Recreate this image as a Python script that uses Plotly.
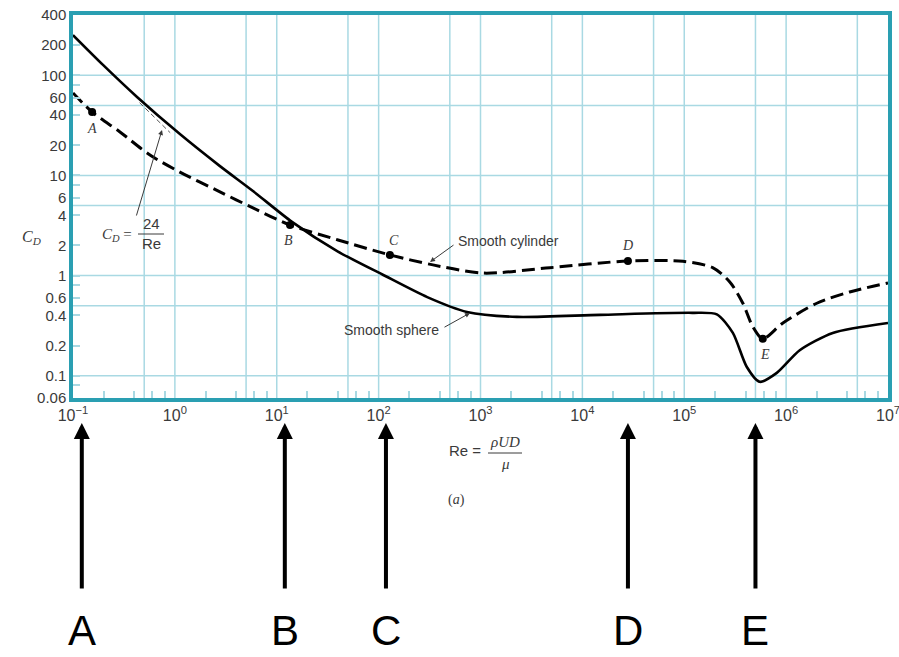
import plotly.graph_objects as go
import numpy as np

# Drag coefficient readings for a smooth sphere (solid) and smooth cylinder (dashed)
sphere_re = [0.1, 0.197, 0.425, 1.12, 2.77, 5.84, 14.1, 39.9, 110, 300, 736, 2275,
             1.49e4, 1.2e5, 2.09e5, 3.0e5, 4.1e5, 5.5e5, 8.1e5, 1.36e6, 2.87e6, 1e7]
sphere_cd = [252, 127, 60.8, 25.9, 12.4, 7.0, 3.44, 1.74, 1.02, 0.61, 0.434, 0.387,
             0.406, 0.425, 0.41, 0.268, 0.123, 0.087, 0.107, 0.18, 0.268, 0.337]

cyl_re = [0.1, 0.154, 0.289, 0.57, 1.12, 2.77, 5.84, 13.5, 40, 129, 341, 1057, 4800,
          2.8e4, 9.7e4, 1.9e5, 2.8e5, 3.76e5, 4.7e5, 5.9e5, 9.3e5, 2.0e6, 4.2e6, 1e7]
cyl_cd = [66.7, 43, 27.2, 16.0, 10.8, 6.86, 4.74, 3.2, 2.27, 1.61, 1.28, 1.06, 1.2,
          1.40, 1.39, 1.2, 0.865, 0.53, 0.31, 0.234, 0.337, 0.53, 0.687, 0.845]

# Labelled points on the cylinder curve
point_names = ["A", "B", "C", "D", "E"]
point_re = [0.154, 13.5, 129, 2.8e4, 5.9e5]
point_cd = [43, 3.2, 1.61, 1.40, 0.234]

# Positions of the large pointer arrows under the chart
pointer_re = [0.122, 12.0, 118, 2.8e4, 5.0e5]

# Stokes-law segment  C_D = 24/Re
stokes_re = [0.45, 0.9]
stokes_cd = [53.3, 26.7]

# Axis ticks and grid
x_tick_vals = [10.0 ** k for k in range(-1, 8)]
x_tick_text = ["10<sup>\u22121</sup>"] + ["10<sup>%d</sup>" % k for k in range(0, 8)]
x_minor_ticks = [m * 10.0 ** k for k in range(-1, 7) for m in (2, 4, 6, 8)]
x_grid = [10.0 ** k for k in range(0, 7)] + [5 * 10.0 ** k for k in range(-1, 7)]

y_tick_vals = [400, 200, 100, 60, 40, 20, 10, 6, 4, 2, 1, 0.6, 0.4, 0.2, 0.1, 0.06]
y_tick_text = ["400", "200", "100", "60", "40", "20", "10", "6", "4", "2", "1",
               "0.6", "0.4", "0.2", "0.1", "0.06"]
y_minor_ticks = [80, 8, 0.8, 0.08]
y_grid = [100, 50, 10, 5, 1, 0.5, 0.1]

W, H = 899, 657
ML, MR, MT, MB = 73, 11, 15, 259
PW, PH = W - ML - MR, H - MT - MB

TEAL = "#2a9fb2"
GRID = "#a9d9e3"
TEXT = "#3a3a3a"
SANS = "Liberation Sans, Arial, sans-serif"
SERIF = "Liberation Serif, Times New Roman, serif"


def px(x):
    return (x - ML) / PW


def py(y):
    return (H - MB - y) / PH


def label(x, y, text, size=15, family=SANS, color=TEXT, xanchor="center"):
    """Free text placed at page-pixel coordinates."""
    return dict(x=px(x), y=py(y), xref="paper", yref="paper", text=text, showarrow=False,
                xanchor=xanchor, yanchor="middle",
                font=dict(family=family, size=size, color=color))


def leader(tip, tail):
    """Thin arrow from a label (tail) to a point on a curve (tip), in page pixels."""
    return dict(x=px(tip[0]), y=py(tip[1]), xref="paper", yref="paper",
                ax=tail[0] - tip[0], ay=tail[1] - tip[1], axref="pixel", ayref="pixel",
                text="", showarrow=True, arrowhead=2, arrowsize=1, arrowwidth=1,
                arrowcolor=TEXT)


fig = go.Figure()

fig.add_trace(go.Scatter(x=sphere_re, y=sphere_cd, mode="lines",
                         line=dict(color="black", width=2.6, shape="spline", smoothing=0.7),
                         hoverinfo="skip", showlegend=False))
fig.add_trace(go.Scatter(x=cyl_re, y=cyl_cd, mode="lines",
                         line=dict(color="black", width=3, dash="13px,6px",
                                   shape="spline", smoothing=0.8),
                         hoverinfo="skip", showlegend=False))
fig.add_trace(go.Scatter(x=stokes_re, y=stokes_cd, mode="lines",
                         line=dict(color="#555555", width=1, dash="5px,3px"),
                         hoverinfo="skip", showlegend=False))
fig.add_trace(go.Scatter(x=point_re, y=point_cd, mode="markers",
                         marker=dict(color="black", size=8),
                         hoverinfo="skip", showlegend=False))

shapes = []
for g in x_grid:
    shapes.append(dict(type="line", xref="x", yref="paper", x0=g, x1=g, y0=0, y1=1,
                       line=dict(color=GRID, width=1.5), layer="below"))
for g in y_grid:
    shapes.append(dict(type="line", xref="paper", yref="y", x0=0, x1=1, y0=g, y1=g,
                       line=dict(color=GRID, width=1.5), layer="below"))
# fraction bars
shapes.append(dict(type="line", xref="paper", yref="paper", x0=px(138), x1=px(164),
                   y0=py(234), y1=py(234), line=dict(color=TEXT, width=1)))
shapes.append(dict(type="line", xref="paper", yref="paper", x0=px(488), x1=px(522),
                   y0=py(453), y1=py(453), line=dict(color=TEXT, width=1)))

ann = []
# point letters (italic serif)
letter_offsets = {"A": (0, 16), "B": (-2, 15), "C": (4, -14), "D": (0, -15), "E": (2, 16)}
for name, r, c in zip(point_names, point_re, point_cd):
    dx, dy = letter_offsets[name]
    ann.append(dict(x=np.log10(r), y=np.log10(c), xref="x", yref="y", text="<i>%s</i>" % name,
                    showarrow=False, xshift=dx, yshift=-dy, xanchor="center", yanchor="middle",
                    font=dict(family=SERIF, size=14, color=TEXT)))

# curve labels with leader arrows
ann.append(leader((430, 262), (455, 244)))
ann.append(label(456, 241, "Smooth cylinder", size=14, xanchor="left"))
ann.append(leader((470, 313), (443, 328)))
ann.append(label(441, 330, "Smooth sphere", size=14, xanchor="right"))

# C_D = 24/Re label
ann.append(leader((162, 130), (136, 217)))
ann.append(label(134, 235, "<i>C<sub>D</sub></i> =", family=SERIF, xanchor="right"))
ann.append(label(151, 224, "24"))
ann.append(label(151, 243, "Re"))

# axis titles
ann.append(label(31, 237, "<i>C<sub>D</sub></i>", size=16, family=SERIF))
ann.append(label(483, 451, "Re =", xanchor="right"))
ann.append(label(505, 442, "<i>\u03c1UD</i>", family=SERIF))
ann.append(label(505, 464, "<i>\u03bc</i>", family=SERIF))
ann.append(label(456, 500, "(<i>a</i>)", size=14, family=SERIF))

# large pointer arrows with letters
for name, r in zip(point_names, pointer_re):
    ann.append(dict(x=np.log10(r), y=py(423), xref="x", yref="paper", ax=0, ay=590 - 423,
                    axref="pixel", ayref="pixel",
                    text="", showarrow=True, arrowhead=2, arrowsize=0.8, arrowwidth=4,
                    arrowcolor="black"))
    ann.append(dict(x=np.log10(r), y=py(630), xref="x", yref="paper", text=name,
                    showarrow=False, xanchor="center", yanchor="middle",
                    font=dict(family=SANS, size=42, color="black")))

fig.update_layout(
    width=W, height=H,
    margin=dict(l=ML, r=MR, t=MT, b=MB, autoexpand=False),
    paper_bgcolor="white", plot_bgcolor="white",
    shapes=shapes, annotations=ann,
    xaxis=dict(type="log", range=[-1, 7], showgrid=False, zeroline=False, automargin=False,
               ticklabeloverflow="allow",
               showline=True, mirror=True, linecolor=TEAL, linewidth=3.5,
               tickmode="array", tickvals=x_tick_vals, ticktext=x_tick_text,
               ticks="", tickfont=dict(family=SANS, size=16, color=TEXT),
               minor=dict(tickmode="array", tickvals=x_minor_ticks, ticks="inside",
                          ticklen=7, tickwidth=1.5, tickcolor=GRID, showgrid=False)),
    yaxis=dict(type="log", range=[np.log10(0.06), np.log10(400)], showgrid=False,
               zeroline=False, automargin=False, ticklabeloverflow="allow",
               showline=True, mirror=True, linecolor=TEAL, linewidth=3.5,
               tickmode="array", tickvals=y_tick_vals, ticktext=y_tick_text,
               ticks="inside", ticklen=7, tickwidth=1.5, tickcolor=GRID,
               tickfont=dict(family=SANS, size=15, color=TEXT),
               minor=dict(tickmode="array", tickvals=y_minor_ticks, ticks="inside",
                          ticklen=7, tickwidth=1.5, tickcolor=GRID, showgrid=False)),
)

fig.write_html("out.html")
